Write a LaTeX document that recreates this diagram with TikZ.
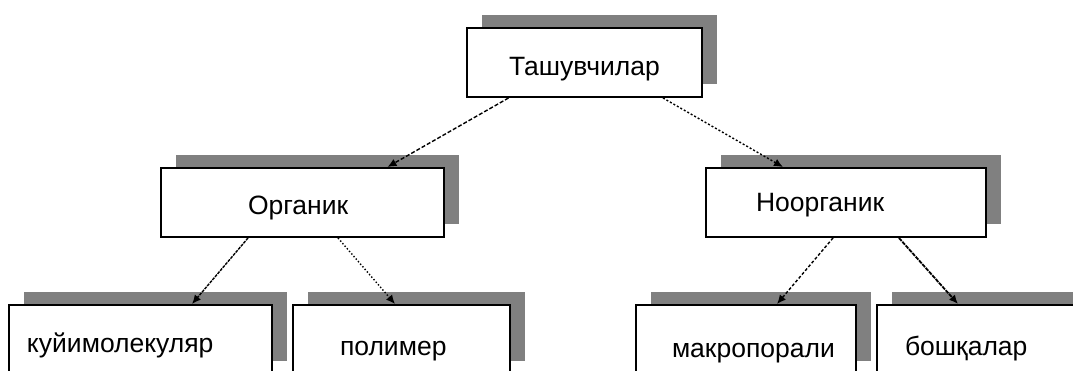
\documentclass[tikz,border=0pt]{standalone}
\usepackage{fontspec}
\setmainfont{Liberation Sans}
\usepackage{tikz}
\usetikzlibrary{shadows,arrows.meta}

\begin{document}
\begin{tikzpicture}[x=1pt,y=1pt,
    box/.style={draw, line width=2pt, fill=white, minimum height=69pt,
        inner ysep=0pt, align=left, font=\fontsize{26.5}{30}\selectfont,
        text height=31pt, text depth=5pt,
        drop shadow={shadow xshift=15pt, shadow yshift=13pt, fill=black!50, opacity=1}},
    link/.style={line width=1.4pt, -{Latex[length=9pt,width=8pt]}}]

    % 画布大小
    \useasboundingbox (0,0) rectangle (1073,370);
    \clip (0,0) rectangle (1073,370);

    % 画方框
    \node[box, align=center, minimum width=235pt, text height=32pt] (tash) at (584.5,307.5) {Ташувчилар};
    \node[box, text width=109pt, inner xsep=87pt, text height=28pt] (org) at (302.5,167.5) {Органик};
    \node[box, text width=180pt, inner xsep=50pt, text height=22pt] (noorg) at (846,167.5) {Ноорганик};
    \node[box, text width=227pt, inner xsep=18pt, text height=30pt] (kuyi) at (140.5,30.5) {куйимолекуляр};
    \node[box, text width=123pt, inner xsep=47pt, text height=36pt] (polim) at (401.5,30.5) {полимер};
    \node[box, text width=148pt, inner xsep=36pt, text height=40pt] (makro) at (746,30.5) {макропорали};
    \node[box, text width=144pt, inner xsep=28pt, text height=36pt] (bosh) at (977,30.5) {бошқалар};

    % 画箭头
    \draw[link, dash pattern=on 4pt off 2pt] ([xshift=-76pt]tash.south) -- ([xshift=85pt]org.north);
    \draw[link, dash pattern=on 2pt off 2pt] ([xshift=78.5pt]tash.south) -- ([xshift=-63pt]noorg.north);
    \draw[link, dash pattern=on 3pt off 1pt] ([xshift=-54.5pt]org.south) -- ([xshift=51.5pt]kuyi.north);
    \draw[link, dotted] ([xshift=35.5pt]org.south) -- ([xshift=-6.5pt]polim.north);
    \draw[link, dash pattern=on 3pt off 2pt] ([xshift=-13pt]noorg.south) -- ([xshift=31pt]makro.north);
    \draw[link, line width=1.8pt, dash pattern=on 4pt off 1pt] ([xshift=53pt]noorg.south) -- ([xshift=-19pt]bosh.north);

\end{tikzpicture}
\end{document}
